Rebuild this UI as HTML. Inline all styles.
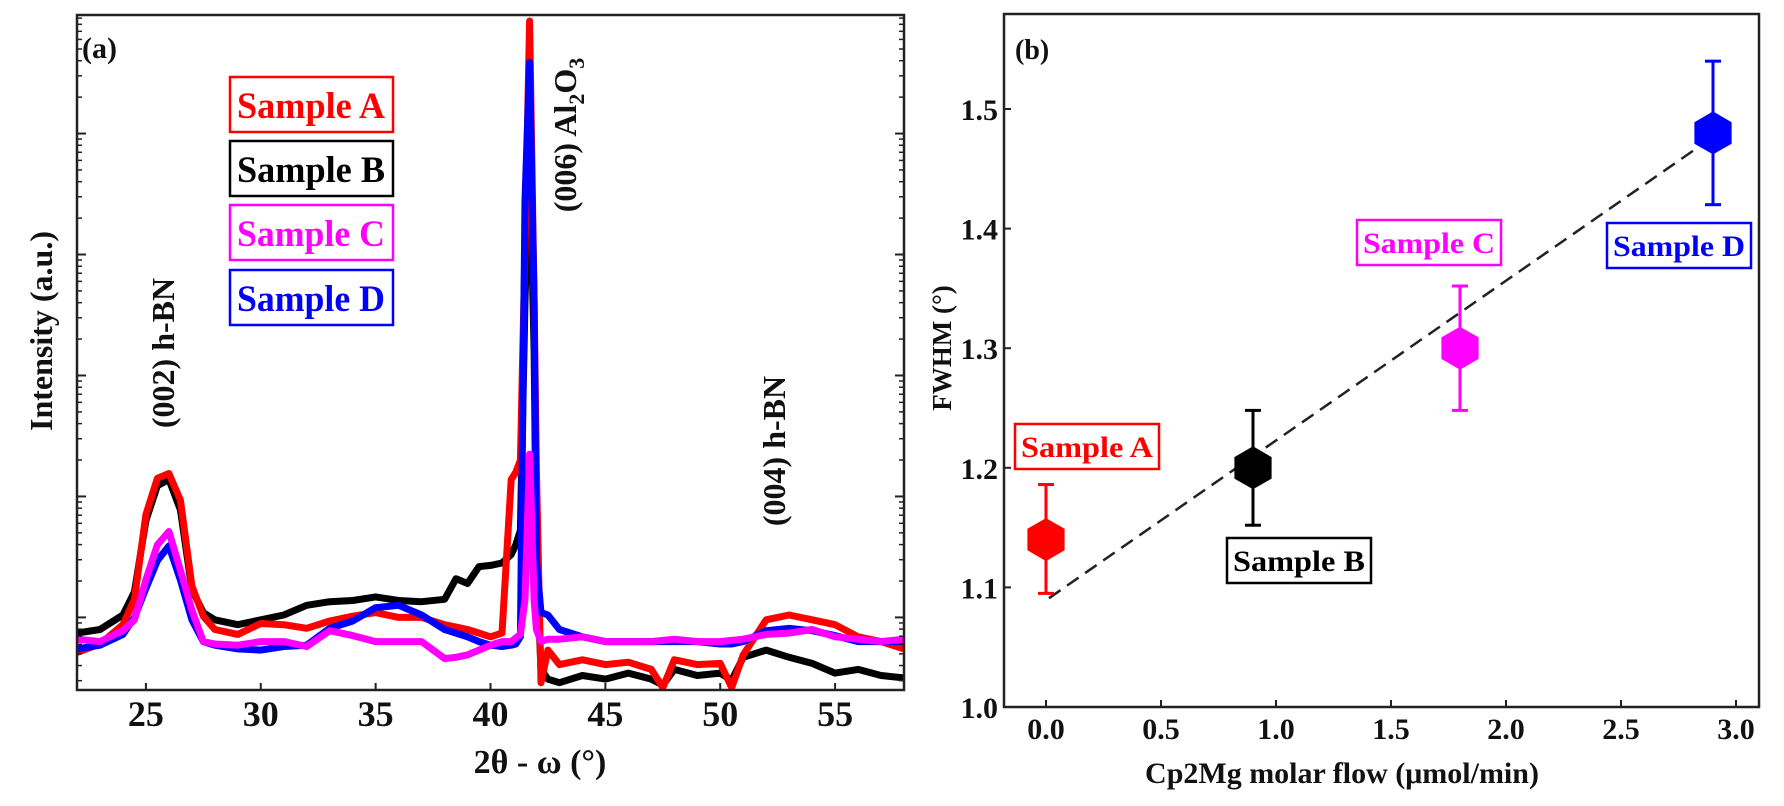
<!DOCTYPE html>
<html><head><meta charset="utf-8"><style>
html,body{margin:0;padding:0;background:#fff;}
svg{display:block;font-family:"Liberation Serif",serif;font-weight:bold;}
</style></head><body>
<svg id="fig" width="1784" height="806" viewBox="0 0 1784 806" xmlns="http://www.w3.org/2000/svg">
<rect x="0" y="0" width="1784" height="806" fill="#fff"/>
<g id="pa"></g>
<g id="pb"></g>
</svg>
<script>
// ---------- Panel (a) data ----------
const thetaValues = [22,23,24,24.5,25,25.5,26,26.5,27,27.5,28,29,30,31,32,33,34,35,36,37,38,38.5,39,39.5,40,40.5,40.9,41.1,41.3,41.5,41.7,41.9,42.0,42.2,42.5,43,44,45,46,47,47.5,48,49,50,50.5,51,52,53,54,55,56,57,58];
// log10 intensity (a.u.)
const sampleBLog = [1.87,1.90,2.02,2.21,2.80,3.09,3.14,2.89,2.23,2.04,1.98,1.94,1.98,2.02,2.10,2.13,2.14,2.17,2.14,2.13,2.15,2.32,2.28,2.42,2.43,2.45,2.52,2.60,2.72,4.62,5.86,4.21,2.47,1.57,1.49,1.46,1.52,1.49,1.54,1.49,1.44,1.57,1.52,1.54,1.48,1.67,1.73,1.67,1.62,1.54,1.57,1.52,1.50];
const sampleALog = [1.71,1.78,1.94,2.15,2.85,3.15,3.19,2.97,2.26,2.01,1.90,1.86,1.95,1.94,1.91,1.97,2.01,2.04,2.00,2.00,1.94,1.92,1.90,1.87,1.84,1.87,3.14,3.20,3.30,5.04,6.93,4.62,3.22,1.46,1.73,1.61,1.65,1.61,1.63,1.57,1.42,1.65,1.61,1.62,1.42,1.69,1.98,2.02,1.98,1.94,1.84,1.80,1.74];
const sampleDLog = [1.74,1.77,1.86,2.00,2.24,2.47,2.59,2.31,1.98,1.80,1.77,1.74,1.73,1.76,1.77,1.91,1.97,2.08,2.10,2.02,1.90,1.87,1.84,1.80,1.77,1.76,1.77,1.78,1.84,5.45,6.59,4.62,2.47,2.04,2.02,1.90,1.84,1.80,1.80,1.80,1.80,1.80,1.80,1.78,1.78,1.80,1.89,1.91,1.89,1.85,1.80,1.80,1.80];
const sampleCLog = [1.82,1.80,1.89,1.98,2.31,2.60,2.71,2.39,2.06,1.80,1.78,1.77,1.80,1.80,1.76,1.89,1.85,1.80,1.80,1.80,1.66,1.67,1.69,1.73,1.77,1.80,1.80,1.83,1.86,2.15,3.35,2.14,1.90,1.80,1.82,1.82,1.84,1.80,1.80,1.80,1.81,1.82,1.80,1.80,1.81,1.82,1.86,1.87,1.90,1.84,1.82,1.80,1.82];
const xTicksA = [25,30,35,40,45,50,55];
const decadesA = [2,3,4,5,6];

// ---------- Panel (b) data ----------
const flowValues = [0.0, 0.9, 1.8, 2.9];
const fwhmValues = [1.14, 1.20, 1.30, 1.48];
const errLow = [1.095, 1.152, 1.248, 1.42];
const errHigh = [1.186, 1.248, 1.352, 1.54];
const sampleNames = ["Sample A","Sample B","Sample C","Sample D"];
const fitX = [0.013, 2.97];
const fitY = [1.091, 1.486];
const xTicksB = [0.0,0.5,1.0,1.5,2.0,2.5,3.0];
const yTicksB = [1.0,1.1,1.2,1.3,1.4,1.5];

const NS = "http://www.w3.org/2000/svg";
function mk(tag, attrs, parent){
  const e = document.createElementNS(NS, tag);
  for (const k in attrs) e.setAttribute(k, attrs[k]);
  parent.appendChild(e);
  return e;
}

// ===== Panel A =====
const pa = document.getElementById('pa');
const A = {l:77, r:904, t:15, b:690};
const ax = v => A.l + (v - 22) / 36 * (A.r - A.l);
const ay = v => A.b - (v - 1.4) / (6.98 - 1.4) * (A.b - A.t);

const seriesA = [
  {name:'sample-b-curve', d:sampleBLog, c:'#000000'},
  {name:'sample-a-curve', d:sampleALog, c:'#ff0000'},
  {name:'sample-d-curve', d:sampleDLog, c:'#0000ff'},
  {name:'sample-c-curve', d:sampleCLog, c:'#ff00ff'}
];
const clipA = mk('clipPath', {id:'clipA'}, pa);
mk('rect', {x:A.l, y:A.t, width:A.r-A.l, height:A.b-A.t}, clipA);
seriesA.forEach(s => {
  const pts = thetaValues.map((t,i) => ax(t).toFixed(1) + ',' + ay(s.d[i]).toFixed(1)).join(' ');
  const pl = mk('polyline', {points:pts, fill:'none', stroke:s.c, 'stroke-width':7, 'stroke-linejoin':'round', 'stroke-linecap':'round', 'clip-path':'url(#clipA)'}, pa);
  
  
});
const frameA = mk('rect', {x:A.l, y:A.t, width:A.r-A.l, height:A.b-A.t, fill:'none', stroke:'#222', 'stroke-width':2.5}, pa);


// log ticks
decadesA.forEach(dv => {
  [A.l, A.r].forEach((xx, side) => {
    const dir = side === 0 ? 1 : -1;
    mk('line', {x1:xx, x2:xx+dir*9, y1:ay(dv), y2:ay(dv), stroke:'#222', 'stroke-width':2}, pa);
    for (let m = 2; m <= 9; m++) {
      const yy = ay(dv - 1 + Math.log10(m));
      if (yy > A.t && yy < A.b) mk('line', {x1:xx, x2:xx+dir*5, y1:yy, y2:yy, stroke:'#222', 'stroke-width':1.5}, pa);
    }
    for (let m = 2; m <= 9; m++) {
      const yy = ay(dv + Math.log10(m));
      if (yy > A.t && yy < A.b && dv === 6) mk('line', {x1:xx, x2:xx+dir*5, y1:yy, y2:yy, stroke:'#222', 'stroke-width':1.5}, pa);
    }
  });
});
xTicksA.forEach(t => {
  mk('line', {x1:ax(t), x2:ax(t), y1:A.b, y2:A.b-7, stroke:'#222', 'stroke-width':2}, pa);
  const tl = mk('text', {x:ax(t), y:726, 'font-size':36, 'text-anchor':'middle', fill:'#111'}, pa);
  tl.textContent = t;
  
  
});
let t1 = mk('text', {x:540, y:773, 'font-size':34, 'text-anchor':'middle', fill:'#111'}, pa);
t1.textContent = '2θ - ω (°)';


let t2 = mk('text', {x:0, y:0, 'font-size':32, 'text-anchor':'middle', fill:'#111', transform:'translate(52,331) rotate(-90)'}, pa);
t2.textContent = 'Intensity (a.u.)';


let t3 = mk('text', {x:82, y:58, 'font-size':30, fill:'#111'}, pa);
t3.textContent = '(a)';


let t4 = mk('text', {x:0, y:0, 'font-size':32, 'text-anchor':'middle', fill:'#111', transform:'translate(174,353) rotate(-90)'}, pa);
t4.textContent = '(002) h-BN';


let t5 = mk('text', {x:0, y:0, 'font-size':32, 'text-anchor':'middle', fill:'#111', transform:'translate(785,451) rotate(-90)'}, pa);
t5.textContent = '(004) h-BN';


let t6 = mk('text', {x:0, y:0, 'font-size':32, 'text-anchor':'middle', fill:'#111', transform:'translate(576,135) rotate(-90)'}, pa);
t6.innerHTML = '(006) Al<tspan font-size="22" dy="8">2</tspan><tspan dy="-8">O</tspan><tspan font-size="22" dy="8">3</tspan>';


// legend
const legA = [{n:'Sample A',c:'#ff0000',y:77},{n:'Sample B',c:'#000000',y:141},{n:'Sample C',c:'#ff00ff',y:205},{n:'Sample D',c:'#0000ff',y:270}];
legA.forEach(l => {
  const g = mk('g', {}, pa);
  
  
  mk('rect', {x:230, y:l.y, width:163, height:55, fill:'#fff', stroke:l.c, 'stroke-width':2.5}, g);
  const tx = mk('text', {x:237, y:l.y+41, 'font-size':37, fill:l.c, textLength:148, lengthAdjust:'spacingAndGlyphs'}, g);
  tx.textContent = l.n;
});

// ===== Panel B =====
const pb = document.getElementById('pb');
const B = {l:1004, r:1759, t:14, b:707};
const bx = v => 1046 + v * 230;
const by = v => B.b - (v - 1.0) * 1196;
const frameB = mk('rect', {x:B.l, y:B.t, width:B.r-B.l, height:B.b-B.t, fill:'none', stroke:'#222', 'stroke-width':2.5}, pb);


xTicksB.forEach(t => {
  mk('line', {x1:bx(t), x2:bx(t), y1:B.b, y2:B.b-7, stroke:'#222', 'stroke-width':2}, pb);
  const tl = mk('text', {x:bx(t), y:739, 'font-size':30, 'text-anchor':'middle', fill:'#111'}, pb);
  tl.textContent = t.toFixed(1);
  
  
});
yTicksB.forEach(t => {
  mk('line', {x1:B.l, x2:B.l+7, y1:by(t), y2:by(t), stroke:'#222', 'stroke-width':2}, pb);
  const tl = mk('text', {x:998, y:by(t)+11, 'font-size':30, 'text-anchor':'end', fill:'#111'}, pb);
  tl.textContent = t.toFixed(1);
  
  
});
let t7 = mk('text', {x:1342, y:783, 'font-size':30, 'text-anchor':'middle', fill:'#111'}, pb);
t7.textContent = 'Cp2Mg molar flow (μmol/min)';


let t8 = mk('text', {x:0, y:0, 'font-size':27, 'text-anchor':'middle', fill:'#111', transform:'translate(951,348) rotate(-90)'}, pb);
t8.textContent = 'FWHM (°)';


let t9 = mk('text', {x:1015, y:59, 'font-size':28, fill:'#111'}, pb);
t9.textContent = '(b)';


// fit line
const fit = mk('line', {x1:bx(fitX[0]), y1:by(fitY[0]), x2:bx(fitX[1]), y2:by(fitY[1]), stroke:'#222', 'stroke-width':2.5, 'stroke-dasharray':'14 8'}, pb);


const colorsB = ['#ff0000','#000000','#ff00ff','#0000ff'];
flowValues.forEach((fv, i) => {
  const g = mk('g', {}, pb);
  
  
  const cx = bx(fv), c = colorsB[i];
  mk('line', {x1:cx, x2:cx, y1:by(errLow[i]), y2:by(errHigh[i]), stroke:c, 'stroke-width':3}, g);
  mk('line', {x1:cx-8, x2:cx+8, y1:by(errLow[i]), y2:by(errLow[i]), stroke:c, 'stroke-width':3}, g);
  mk('line', {x1:cx-8, x2:cx+8, y1:by(errHigh[i]), y2:by(errHigh[i]), stroke:c, 'stroke-width':3}, g);
  const cy = by(fwhmValues[i]), R = 21.5;
  let pts = [];
  for (let k = 0; k < 6; k++) { const a = Math.PI/180*(60*k - 90); pts.push((cx + R*Math.cos(a)).toFixed(1) + ',' + (cy + R*Math.sin(a)).toFixed(1)); }
  mk('polygon', {points:pts.join(' '), fill:c}, g);
});
// labels
const labB = [{x:1015,y:424},{x:1227,y:538},{x:1357,y:220},{x:1607,y:223}];
labB.forEach((p, i) => {
  const g = mk('g', {}, pb);
  
  
  mk('rect', {x:p.x, y:p.y, width:144, height:45, fill:'#fff', stroke:colorsB[i], 'stroke-width':2.5}, g);
  const tx = mk('text', {x:p.x+6, y:p.y+33, 'font-size':30, fill:colorsB[i], textLength:132, lengthAdjust:'spacingAndGlyphs'}, g);
  tx.textContent = sampleNames[i];
});
</script>
</body></html>
